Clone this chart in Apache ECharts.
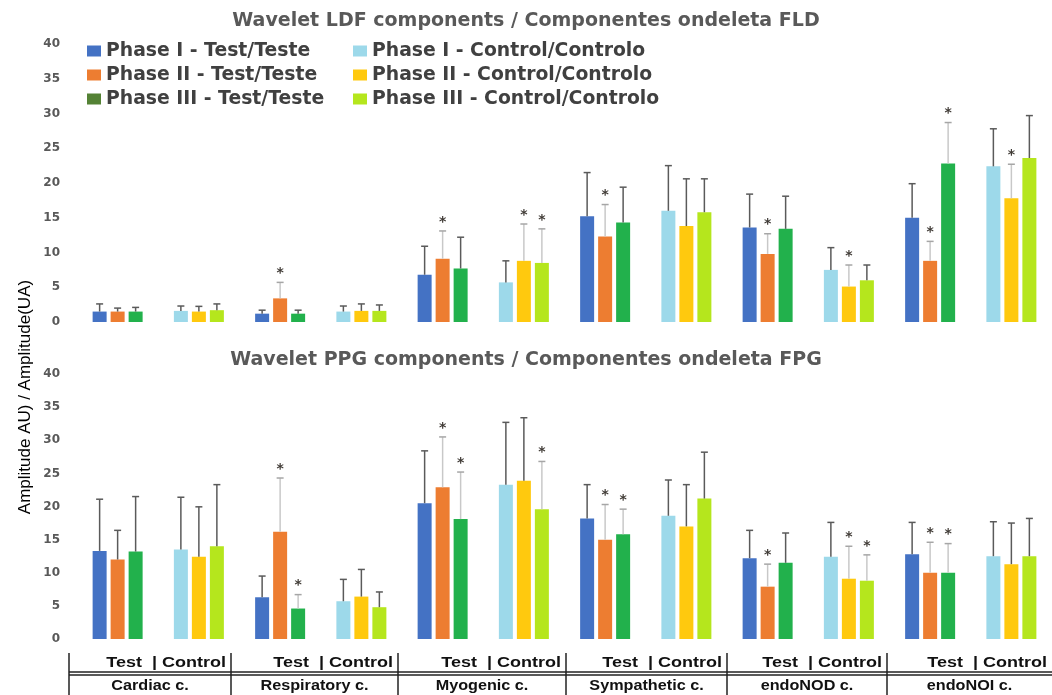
<!DOCTYPE html>
<html><head><meta charset="utf-8">
<script src="https://cdn.jsdelivr.net/npm/echarts@6/dist/echarts.min.js"></script>
<style>html,body{margin:0;padding:0;background:#fff}#c{width:1052px;height:695px}</style>
</head><body><div id="c"></div><script>
// ---------- data ----------
const components = ['Cardiac c.', 'Respiratory c.', 'Myogenic c.', 'Sympathetic c.', 'endoNOD c.', 'endoNOI c.'];
const groupNames = ['Test', 'Control'];
const seriesNames = ['Phase I - Test/Teste', 'Phase II - Test/Teste', 'Phase III - Test/Teste',
  'Phase I - Control/Controlo', 'Phase II - Control/Controlo', 'Phase III - Control/Controlo'];
const panelTitles = ['Wavelet LDF components / Componentes ondeleta FLD', 'Wavelet PPG components / Componentes ondeleta FPG'];
const yTicks = [0, 5, 10, 15, 20, 25, 30, 35, 40];
const yAxisName = 'Amplitude AU) / Amplitude(UA)';

// LDF panel: means, SD, significance flags (per component)
const ldfP1TestMean = [1.5, 1.2, 6.8, 15.2, 13.6, 15.0];
const ldfP1TestSD   = [1.1, 0.5, 4.1, 6.3, 4.8, 4.9];
const ldfP1TestSig  = [0, 0, 0, 0, 0, 0];
const ldfP2TestMean = [1.5, 3.4, 9.1, 12.3, 9.8, 8.8];
const ldfP2TestSD   = [0.5, 2.3, 4.0, 4.6, 2.9, 2.8];
const ldfP2TestSig  = [0, 1, 1, 1, 1, 1];
const ldfP3TestMean = [1.5, 1.2, 7.7, 14.3, 13.4, 22.8];
const ldfP3TestSD   = [0.6, 0.5, 4.5, 5.1, 4.7, 5.9];
const ldfP3TestSig  = [0, 0, 0, 0, 0, 1];
const ldfP1CtrlMean = [1.6, 1.5, 5.7, 16.0, 7.5, 22.4];
const ldfP1CtrlSD   = [0.7, 0.8, 3.1, 6.5, 3.2, 5.4];
const ldfP1CtrlSig  = [0, 0, 0, 0, 0, 0];
const ldfP2CtrlMean = [1.5, 1.6, 8.8, 13.8, 5.1, 17.8];
const ldfP2CtrlSD   = [0.75, 1.0, 5.3, 6.8, 3.1, 4.9];
const ldfP2CtrlSig  = [0, 0, 1, 0, 1, 1];
const ldfP3CtrlMean = [1.7, 1.6, 8.5, 15.8, 6.0, 23.6];
const ldfP3CtrlSD   = [0.9, 0.85, 4.9, 4.8, 2.2, 6.1];
const ldfP3CtrlSig  = [0, 0, 1, 0, 0, 0];

// PPG panel
const ppgP1TestMean = [13.3, 6.3, 20.5, 18.2, 12.2, 12.8];
const ppgP1TestSD   = [7.8, 3.2, 7.9, 5.1, 4.2, 4.8];
const ppgP1TestSig  = [0, 0, 0, 0, 0, 0];
const ppgP2TestMean = [12.0, 16.2, 22.9, 15.0, 7.9, 10.0];
const ppgP2TestSD   = [4.4, 8.1, 7.6, 5.3, 3.4, 4.6];
const ppgP2TestSig  = [0, 1, 1, 1, 1, 1];
const ppgP3TestMean = [13.2, 4.6, 18.1, 15.8, 11.5, 10.0];
const ppgP3TestSD   = [8.3, 2.1, 7.1, 3.8, 4.5, 4.4];
const ppgP3TestSig  = [0, 1, 1, 1, 0, 1];
const ppgP1CtrlMean = [13.5, 5.7, 23.3, 18.6, 12.4, 12.5];
const ppgP1CtrlSD   = [7.9, 3.3, 9.4, 5.4, 5.2, 5.2];
const ppgP1CtrlSig  = [0, 0, 0, 0, 0, 0];
const ppgP2CtrlMean = [12.4, 6.4, 23.9, 17.0, 9.1, 11.3];
const ppgP2CtrlSD   = [7.55, 4.1, 9.5, 6.3, 4.9, 6.2];
const ppgP2CtrlSig  = [0, 0, 0, 0, 1, 0];
const ppgP3CtrlMean = [14.0, 4.8, 19.6, 21.2, 8.8, 12.5];
const ppgP3CtrlSD   = [9.3, 2.3, 7.2, 7.0, 3.9, 5.7];
const ppgP3CtrlSig  = [0, 0, 1, 0, 1, 0];

// ---------- build ----------
const panels = [
  {mean: [ldfP1TestMean, ldfP2TestMean, ldfP3TestMean, ldfP1CtrlMean, ldfP2CtrlMean, ldfP3CtrlMean],
   sd:   [ldfP1TestSD, ldfP2TestSD, ldfP3TestSD, ldfP1CtrlSD, ldfP2CtrlSD, ldfP3CtrlSD],
   sig:  [ldfP1TestSig, ldfP2TestSig, ldfP3TestSig, ldfP1CtrlSig, ldfP2CtrlSig, ldfP3CtrlSig]},
  {mean: [ppgP1TestMean, ppgP2TestMean, ppgP3TestMean, ppgP1CtrlMean, ppgP2CtrlMean, ppgP3CtrlMean],
   sd:   [ppgP1TestSD, ppgP2TestSD, ppgP3TestSD, ppgP1CtrlSD, ppgP2CtrlSD, ppgP3CtrlSD],
   sig:  [ppgP1TestSig, ppgP2TestSig, ppgP3TestSig, ppgP1CtrlSig, ppgP2CtrlSig, ppgP3CtrlSig]}
];
const barColors = ['#4472C4', '#ED7D31', '#22B14C', '#9DD9EA', '#FFC90E', '#B5E61D'];
const legendColors = ['#4472C4', '#ED7D31', '#548235', '#9DD9EA', '#FFC90E', '#B5E61D'];

const categories = [];
components.forEach(c => groupNames.forEach(g => categories.push(c + ' ' + g)));

const BAR_W = 14, BAR_STEP = 18;
const grids = [
  {left: 77, width: 979, top: 44, height: 278},
  {left: 77, width: 979, top: 374, height: 265}
];

function renderErr(params, api) {
  const cat = api.value(0), slot = api.value(1), mean = api.value(2), top = api.value(3), star = api.value(4);
  const b = api.coord([cat, mean]);
  const t = api.coord([cat, top]);
  const x = b[0] + (slot - 1) * BAR_STEP;
  const col = star ? '#C8C8C8' : '#5A5A5A';
  const capCol = star ? '#A6A6A6' : '#5A5A5A';
  const children = [
    {type: 'line', shape: {x1: x, y1: b[1], x2: x, y2: t[1]}, style: {stroke: col, lineWidth: 1.5}},
    {type: 'line', shape: {x1: x - 3.5, y1: t[1], x2: x + 3.5, y2: t[1]}, style: {stroke: capCol, lineWidth: 1.5}}
  ];
  if (star) {
    children.push({type: 'text', style: {text: '*', x: x, y: t[1] - 2, align: 'center', verticalAlign: 'bottom',
      fill: '#3F3A35', font: 'bold 14px "DejaVu Sans"'}});
  }
  return {type: 'group', children: children};
}

const series = [];
panels.forEach((p, pi) => {
  const errData = [];
  for (let s = 0; s < 6; s++) {
    const isTest = s < 3;
    const phase = s % 3;
    const data = categories.map(() => null);
    components.forEach((c, ci) => {
      const idx = ci * 2 + (isTest ? 0 : 1);
      data[idx] = {value: p.mean[s][ci], itemStyle: {color: barColors[s]}};
      errData.push([idx, phase, p.mean[s][ci], p.mean[s][ci] + p.sd[s][ci], p.sig[s][ci]]);
    });
    series.push({
      name: seriesNames[s], type: 'bar', xAxisIndex: pi, yAxisIndex: pi,
      stack: 'panel' + pi + 'phase' + phase,
      barWidth: BAR_W, barGap: ((BAR_STEP - BAR_W) / BAR_W * 100) + '%',
      itemStyle: {color: legendColors[s]},
      emphasis: {disabled: true},
      data: data
    });
  }
  series.push({
    type: 'custom', xAxisIndex: pi, yAxisIndex: pi, renderItem: renderErr, z: 5,
    encode: {x: 0, y: 3}, data: errData, silent: true
  });
});

// table decoration under the chart
const tableX = [69, 231, 398, 566, 727, 887, 1052];
const graphic = [
  {type: 'text', x: 25, y: 397, rotation: Math.PI / 2,
   style: {text: yAxisName, fill: '#000', font: '17px "Liberation Sans"', align: 'center', verticalAlign: 'middle'}},
  {type: 'line', shape: {x1: 69, y1: 672, x2: 1052, y2: 672}, style: {stroke: '#222', lineWidth: 1.3}},
  {type: 'line', shape: {x1: 69, y1: 675, x2: 1052, y2: 675}, style: {stroke: '#222', lineWidth: 1.3}}
];
tableX.slice(0, 6).forEach(x => graphic.push({type: 'line', shape: {x1: x, y1: 653, x2: x, y2: 695}, style: {stroke: '#222', lineWidth: 1.5}}));
components.forEach((c, i) => {
  const x0 = tableX[i], x1 = tableX[i + 1];
  graphic.push({type: 'text', x: x1 - 5, y: 663, scaleX: 1.2,
    style: {text: groupNames[0] + '  | ' + groupNames[1], x: 0, y: 0, fill: '#111', font: 'bold 15px "Liberation Sans"', align: 'right', verticalAlign: 'middle'}});
  graphic.push({type: 'text', x: (x0 + x1) / 2, y: 686, scaleX: 1.08,
    style: {text: c, x: 0, y: 0, fill: '#111', font: 'bold 15px "Liberation Sans"', align: 'center', verticalAlign: 'middle'}});
});

const yAxisBase = {
  type: 'value', min: 0, max: 40, interval: 5,
  axisLine: {show: false}, axisTick: {show: false}, splitLine: {show: false},
  axisLabel: {color: '#595959', fontWeight: 'bold', fontSize: 12, fontFamily: 'DejaVu Sans', margin: 17,
    formatter: v => yTicks.indexOf(v) >= 0 ? String(v) : ''}
};
const xAxisBase = {type: 'category', data: categories, axisLine: {show: false}, axisTick: {show: false}, axisLabel: {show: false}};

const legendBase = {
  orient: 'vertical', itemWidth: 14, itemHeight: 11, itemGap: 4, icon: 'rect', padding: 0,
  textStyle: {color: '#404040', fontWeight: 'bold', fontSize: 18.8, lineHeight: 20, fontFamily: 'DejaVu Sans'}, selectedMode: false
};

const titleStyle = {color: '#595959', fontSize: 19, fontWeight: 'bold', fontFamily: 'DejaVu Sans'};
const option = {
  animation: false,
  backgroundColor: '#fff',
  title: [
    {text: panelTitles[0], left: 'center', top: 7, textStyle: titleStyle},
    {text: panelTitles[1], left: 'center', top: 346, textStyle: titleStyle}
  ],
  legend: [
    Object.assign({}, legendBase, {left: 87, top: 41, data: seriesNames.slice(0, 3)}),
    Object.assign({}, legendBase, {left: 353, top: 41, data: seriesNames.slice(3)})
  ],
  grid: grids,
  xAxis: [Object.assign({gridIndex: 0}, xAxisBase), Object.assign({gridIndex: 1}, xAxisBase)],
  yAxis: [Object.assign({gridIndex: 0}, yAxisBase), Object.assign({gridIndex: 1}, yAxisBase)],
  graphic: graphic,
  series: series
};

const chart = echarts.init(document.getElementById('c'));
chart.setOption(option);
</script></body></html>
